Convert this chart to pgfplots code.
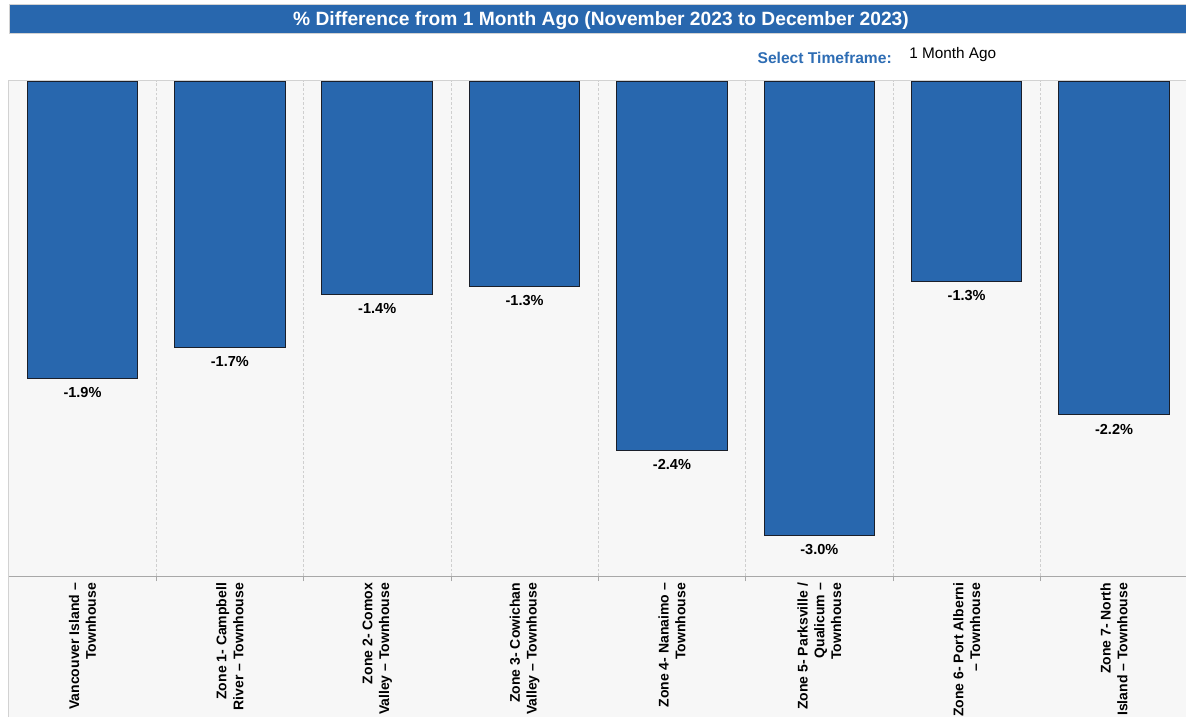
\documentclass[border=0pt]{standalone}
\usepackage{pgfplots}
\pgfplotsset{compat=1.18}
\usepackage{fontspec}
\setmainfont{Liberation Sans}
\definecolor{barblue}{HTML}{2867AE}
\definecolor{baredge}{HTML}{1A1F2A}
\definecolor{bgray}{HTML}{F7F7F7}
\definecolor{bordergray}{HTML}{D2D2D2}
\definecolor{axisgray}{HTML}{A8A8A8}
\definecolor{gridgray}{HTML}{CFCFCF}
\definecolor{selblue}{HTML}{2E6DB4}
\begin{document}
\begin{tikzpicture}
\useasboundingbox (0pt,0pt) rectangle (889.5pt,-537.75pt);
\clip (0pt,0pt) rectangle (889.5pt,-537.75pt);
\begin{scope}[x=0.75pt,y=-0.75pt]
\fill[white] (0,0) rectangle (1186,717);
\fill[bgray] (8,81) rectangle (1200,720);
\draw[bordergray, line width=0.75pt] (8,720) -- (8,81) -- (1200,81);
\fill[barblue] (9.6,4.7) rectangle (1200,33.3);
\draw[bordergray, line width=0.75pt] (1200,4.7) -- (9.6,4.7) -- (9.6,33.3) -- (1200,33.3);
\node[anchor=base, text=white, inner sep=0pt, font=\bfseries\fontsize{14.4}{17}\selectfont] at (601,26) {\% Difference from 1 Month Ago (November 2023 to December 2023)};
\node[anchor=base east, text=selblue, inner sep=0pt, font=\bfseries\fontsize{11.7}{14}\selectfont] at (892,63.3) {Select Timeframe:};
\node[anchor=base west, text=black, inner sep=0pt, font=\fontsize{11.5}{14}\selectfont] at (909,58.3) {1 Month Ago};
\end{scope}
\begin{axis}[
  at={(6.6pt,-60.75pt)}, anchor=north west,
  scale only axis, width=884.2pt, height=371.25pt,
  ybar, bar width=0.75,
  xmin=-0.5, xmax=7.5, ymin=-3.225, ymax=0,
  axis x line*=bottom, axis y line=none,
  x axis line style={-, draw=axisgray, line width=0.75pt},
  xtick={0,...,7},
  xticklabels={{Vancouver Island –\\Townhouse},{Zone 1- Campbell\\River – Townhouse},{Zone 2- Comox\\Valley – Townhouse},{Zone 3- Cowichan\\Valley – Townhouse},{Zone 4- Nanaimo –\\Townhouse},{Zone 5- Parksville /\\Qualicum –\\Townhouse},{Zone 6- Port Alberni\\– Townhouse},{Zone 7- North\\Island – Townhouse}},
  major tick length=0pt,
  minor x tick num=1, minor tick length=3.75pt, tick align=outside,
  minor tick style={draw=axisgray, line width=0.6pt},
  xminorgrids=true,
  minor grid style={draw=gridgray, dash pattern=on 2pt off 1.5pt, line width=0.6pt},
  ytick=\empty,
  xticklabel style={rotate=90, anchor=east, align=right, inner sep=0pt, font=\bfseries\fontsize{10.5}{12.6}\selectfont},
  xticklabel shift=5pt,
  point meta=explicit symbolic,
  nodes near coords,
  nodes near coords style={anchor=north, inner sep=0pt, yshift=-6.3pt, text=black, font=\bfseries\fontsize{10.9}{13}\selectfont},
]
\addplot[fill=barblue, draw=baredge, line width=0.75pt] coordinates {
  (0,-1.935) [-1.9\%]
  (1,-1.733) [-1.7\%]
  (2,-1.394) [-1.4\%]
  (3,-1.336) [-1.3\%]
  (4,-2.410) [-2.4\%]
  (5,-2.958) [-3.0\%]
  (6,-1.309) [-1.3\%]
  (7,-2.176) [-2.2\%]
};
\end{axis}
\end{tikzpicture}
\end{document}
